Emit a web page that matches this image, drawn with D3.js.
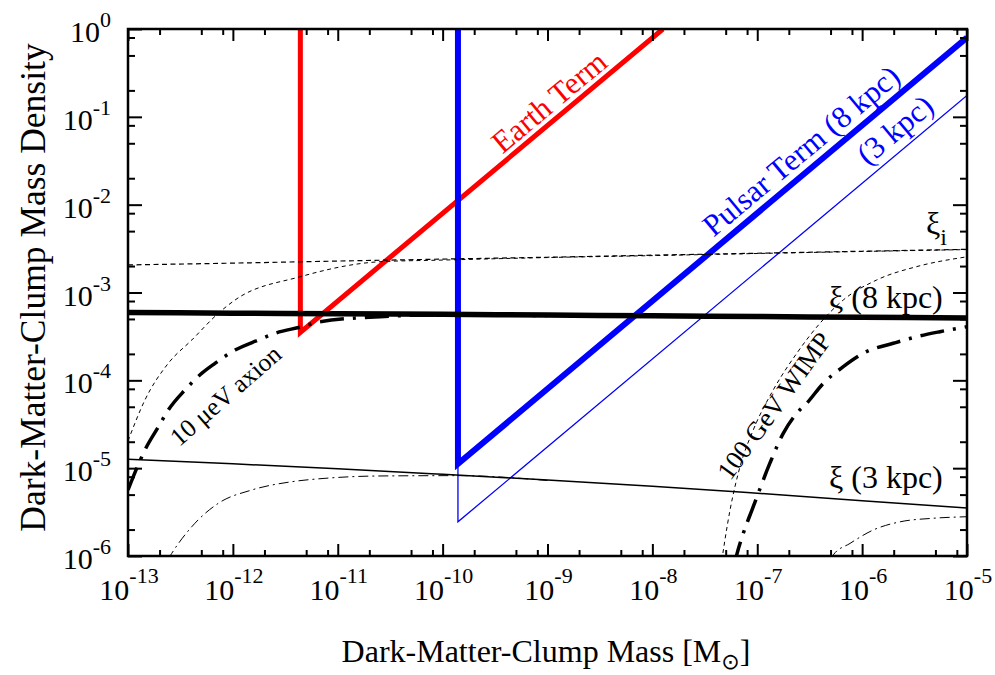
<!DOCTYPE html>
<html>
<head>
<meta charset="utf-8">
<script src="https://cdn.jsdelivr.net/npm/d3@7"></script>
<style>
  body { margin: 0; background: #fff; }
  svg { display: block; }
  text { font-family: "Liberation Serif", "Times New Roman", serif; fill: #000; }
</style>
</head>
<body>
<svg id="chart" width="995" height="675"></svg>
<script>
// ---- data: clump mass [M_sun] and mass density ----
const massDecades = [1e-13, 1e-12, 1e-11, 1e-10, 1e-9, 1e-8, 1e-7, 1e-6, 1e-5];
const xiInitial   = [2.06e-3, 2.16e-3, 2.28e-3, 2.40e-3, 2.52e-3, 2.66e-3, 2.80e-3, 2.95e-3, 3.10e-3];
const xi8kpc      = [5.92e-4, 5.82e-4, 5.73e-4, 5.64e-4, 5.53e-4, 5.43e-4, 5.33e-4, 5.22e-4, 5.13e-4];
const xi3kpc      = [1.26e-5, 1.12e-5, 9.82e-6, 8.51e-6, 7.33e-6, 6.24e-6, 5.19e-6, 4.27e-6, 3.52e-6];

const earthMass      = [4.4e-12, 4.4e-12, 1.26e-8];
const earthDensity   = [1, 3.52e-4, 1];
const pulsar8Mass    = [1.4e-10, 1.4e-10, 1e-5];
const pulsar8Density = [1, 1.12e-5, 0.80];
const pulsar3Mass    = [1.4e-10, 1.4e-10, 1e-5];
const pulsar3Density = [1, 2.45e-6, 0.175];

// 10 micro-eV axion
const axionXiMass    = [1e-13, 1.45e-13, 2.43e-13, 4.06e-13, 7.26e-13, 1.05e-12, 4.37e-12, 2.53e-11, 1e-10, 1e-9, 1e-8, 1e-7, 1e-6, 1e-5];
const axionXiDensity = [2.04e-5, 5.97e-5, 1.57e-4, 2.88e-4, 5.79e-4, 8.22e-4, 1.51e-3, 2.24e-3, 2.34e-3, 2.50e-3, 2.63e-3, 2.78e-3, 2.93e-3, 3.08e-3];
const axion8Mass     = [1e-13, 1.21e-13, 1.45e-13, 1.95e-13, 2.42e-13, 3.49e-13, 5.04e-13, 6.75e-13, 1.05e-12, 1.75e-12, 2.52e-12, 4.53e-12, 6.78e-12, 2.53e-11, 7.59e-11, 1e-9];
const axion8Density  = [5.65e-6, 9.95e-6, 1.61e-5, 2.96e-5, 4.59e-5, 7.76e-5, 1.20e-4, 1.56e-4, 2.21e-4, 2.88e-4, 3.43e-4, 4.07e-4, 4.65e-4, 5.30e-4, 5.55e-4, 5.47e-4];
const axion3Mass     = [2.40e-13, 2.61e-13, 4.05e-13, 7.26e-13, 1.51e-12, 3.64e-12, 7.55e-12, 2.53e-11, 1.41e-10, 1e-9];
const axion3Density  = [9.1e-7, 1.07e-6, 2.15e-6, 3.98e-6, 5.64e-6, 7.01e-6, 7.66e-6, 8.15e-6, 8.22e-6, 7.24e-6];

// 100 GeV WIMP
const wimpXiMass     = [4.37e-8, 5.50e-8, 6.85e-8, 9.16e-8, 1.42e-7, 2.38e-7, 3.96e-7, 6.61e-7, 1.38e-6, 3.31e-6, 1e-5];
const wimpXiDensity  = [6.0e-7, 3.33e-6, 1.04e-5, 2.72e-5, 7.76e-5, 2.03e-4, 4.46e-4, 8.22e-4, 1.39e-3, 1.97e-3, 2.55e-3];
const wimp8Mass      = [6.03e-8, 6.37e-8, 7.36e-8, 9.16e-8, 1.32e-7, 1.77e-7, 2.38e-7, 2.96e-7, 4.27e-7, 6.61e-7, 1.10e-6, 1.98e-6, 3.31e-6, 5.52e-6, 1e-5];
const wimp8Density   = [7.9e-7, 1.03e-6, 1.81e-6, 3.64e-6, 1.14e-5, 2.49e-5, 4.21e-5, 5.47e-5, 9.25e-5, 1.43e-4, 2.12e-4, 2.64e-4, 3.14e-4, 3.58e-4, 4.08e-4];
const wimp3Mass      = [5.01e-7, 5.31e-7, 7.66e-7, 1.28e-6, 2.30e-6, 4.78e-6, 1e-5];
const wimp3Density   = [9.3e-7, 1.03e-6, 1.39e-6, 1.98e-6, 2.45e-6, 2.69e-6, 2.80e-6];

// tick labels (powers of ten)
const xTickValues = [1e-13, 1e-12, 1e-11, 1e-10, 1e-9, 1e-8, 1e-7, 1e-6, 1e-5];
const xTickExponents = ["-13", "-12", "-11", "-10", "-9", "-8", "-7", "-6", "-5"];
const yTickValues = [1, 1e-1, 1e-2, 1e-3, 1e-4, 1e-5, 1e-6];
const yTickExponents = ["0", "-1", "-2", "-3", "-4", "-5", "-6"];
const minorMantissas = [2, 5, 8];

// ---- layout ----
const svg = d3.select("#chart");
const plotL = 128, plotR = 967, plotT = 29, plotB = 556;

const x = d3.scaleLog().domain([1e-13, 1e-5]).range([plotL, plotR]);
const y = d3.scaleLog().domain([1e-6, 1]).range([plotB, plotT]);

const zip = (a, b) => a.map((v, i) => [v, b[i]]);
const xMinor = xTickValues.slice(0, -1).flatMap(d => minorMantissas.map(m => m * d));
const yMinor = yTickValues.slice(1).flatMap(d => minorMantissas.map(m => m * d));

svg.append("defs").append("clipPath").attr("id", "plotClip")
  .append("rect").attr("x", plotL).attr("y", plotT)
  .attr("width", plotR - plotL).attr("height", plotB - plotT);

const plot = svg.append("g").attr("clip-path", "url(#plotClip)");

const straight = d3.line().x(d => x(d[0])).y(d => y(d[1]));
const smooth = d3.line().x(d => x(d[0])).y(d => y(d[1])).curve(d3.curveMonotoneX);

function draw(gen, pts, stroke, width, dash) {
  return plot.append("path")
    .datum(pts)
    .attr("d", gen)
    .attr("fill", "none")
    .attr("stroke", stroke)
    .attr("stroke-width", width)
    .attr("stroke-dasharray", dash || null)
    .attr("stroke-linejoin", "miter")
    .attr("stroke-miterlimit", 10);
}

// detection thresholds
draw(straight, zip(pulsar3Mass, pulsar3Density), "#0000ff", 1.3);
draw(straight, zip(earthMass, earthDensity), "#ff0000", 5);
draw(straight, zip(pulsar8Mass, pulsar8Density), "#0000ff", 6);

// minimum-mass cut-off curves
const thinDash = "4,3.5";
const thickDashDot = "24,9,3,9";
const thinDashDot = "10,4,2,4";
draw(smooth, zip(axionXiMass, axionXiDensity), "#000", 1, thinDash);
draw(smooth, zip(wimpXiMass, wimpXiDensity), "#000", 1, thinDash);
draw(smooth, zip(axion3Mass, axion3Density), "#000", 1, thinDashDot);
draw(smooth, zip(wimp3Mass, wimp3Density), "#000", 1, thinDashDot);
draw(smooth, zip(axion8Mass, axion8Density), "#000", 3.5, thickDashDot);
draw(smooth, zip(wimp8Mass, wimp8Density), "#000", 3.5, thickDashDot);

// clump mass fractions
draw(smooth, zip(massDecades, xiInitial), "#000", 1.2, "5,3.5");
draw(smooth, zip(massDecades, xi3kpc), "#000", 1.5);
draw(smooth, zip(massDecades, xi8kpc), "#000", 5.5);

// ---- axes: ticks point inward on all four sides ----
function ticks(axis, tx, ty, values, size) {
  const g = svg.append("g").attr("transform", `translate(${tx},${ty})`)
    .call(axis.tickValues(values).tickSize(size).tickFormat(""));
  g.select(".domain").remove();
  g.selectAll(".tick line").attr("stroke", "#000").attr("stroke-width", 2);
}
ticks(d3.axisBottom(x), 0, plotB, xTickValues, -12);
ticks(d3.axisBottom(x), 0, plotB, xMinor, -6);
ticks(d3.axisTop(x), 0, plotT, xTickValues, -12);
ticks(d3.axisTop(x), 0, plotT, xMinor, -6);
ticks(d3.axisLeft(y), plotL, 0, yTickValues, -14);
ticks(d3.axisLeft(y), plotL, 0, yMinor, -7);
ticks(d3.axisRight(y), plotR, 0, yTickValues, -14);
ticks(d3.axisRight(y), plotR, 0, yMinor, -7);

svg.append("rect").attr("x", plotL).attr("y", plotT)
  .attr("width", plotR - plotL).attr("height", plotB - plotT)
  .attr("fill", "none").attr("stroke", "#000").attr("stroke-width", 2.5);

// tick labels
xTickValues.forEach((v, i) => {
  const t = svg.append("text").attr("x", x(v) + 1).attr("y", 600)
    .attr("text-anchor", "middle").attr("font-size", 30);
  t.append("tspan").text("10");
  t.append("tspan").attr("dy", -17).attr("font-size", 22).text(xTickExponents[i]);
});
yTickValues.forEach((v, i) => {
  const t = svg.append("text").attr("x", 111).attr("y", y(v) + 13)
    .attr("text-anchor", "end").attr("font-size", 30);
  t.append("tspan").text("10");
  t.append("tspan").attr("dy", -15).attr("font-size", 22).text(yTickExponents[i]);
});

// axis titles
const xt = svg.append("text").attr("x", 546).attr("y", 662)
  .attr("text-anchor", "middle").attr("font-size", 32);
xt.append("tspan").text("Dark-Matter-Clump Mass [M");
xt.append("tspan").attr("dy", 7).attr("font-size", 22)
  .style("font-family", "'DejaVu Sans', sans-serif").text("\u2299");
xt.append("tspan").attr("dy", -7).text("]");

svg.append("text")
  .attr("transform", "translate(45,287.5) rotate(-90)")
  .attr("text-anchor", "middle").attr("font-size", 35.5)
  .text("Dark-Matter-Clump Mass Density");

// ---- annotations ----
const slopeAngle = -Math.atan((y(0.1) - y(1)) / (x(1e-12) - x(1e-13))) * 180 / Math.PI;

function rotated(mass, dens, angle, size, color, str) {
  svg.append("text")
    .attr("transform", `translate(${x(mass)},${y(dens)}) rotate(${angle})`)
    .attr("text-anchor", "middle").attr("font-size", size)
    .style("fill", color).text(str);
}
rotated(1.2e-9, 0.12, slopeAngle, 31, "#ff0000", "Earth Term");
rotated(3.03e-7, 0.0333, slopeAngle, 31, "#0000ff", "Pulsar Term (8 kpc)");
rotated(2.38e-6, 0.0577, slopeAngle, 31, "#0000ff", "(3 kpc)");
rotated(9.64e-13, 5.68e-5, -41, 25.5, "#000", "10 \u03bceV axion");
rotated(1.70e-7, 4.48e-5, -54, 26.5, "#000", "100 GeV WIMP");

svg.append("text").attr("x", x(4.83e-7)).attr("y", y(6.66e-4))
  .attr("font-size", 32).text("\u03be (8 kpc)");
svg.append("text").attr("x", x(4.83e-7)).attr("y", y(5.9e-6))
  .attr("font-size", 32).text("\u03be (3 kpc)");
const xi = svg.append("text").attr("x", x(4.06e-6)).attr("y", y(4.69e-3))
  .attr("font-size", 32);
xi.append("tspan").text("\u03be");
xi.append("tspan").attr("dy", 11).attr("font-size", 24).text("i");
</script>
</body>
</html>
